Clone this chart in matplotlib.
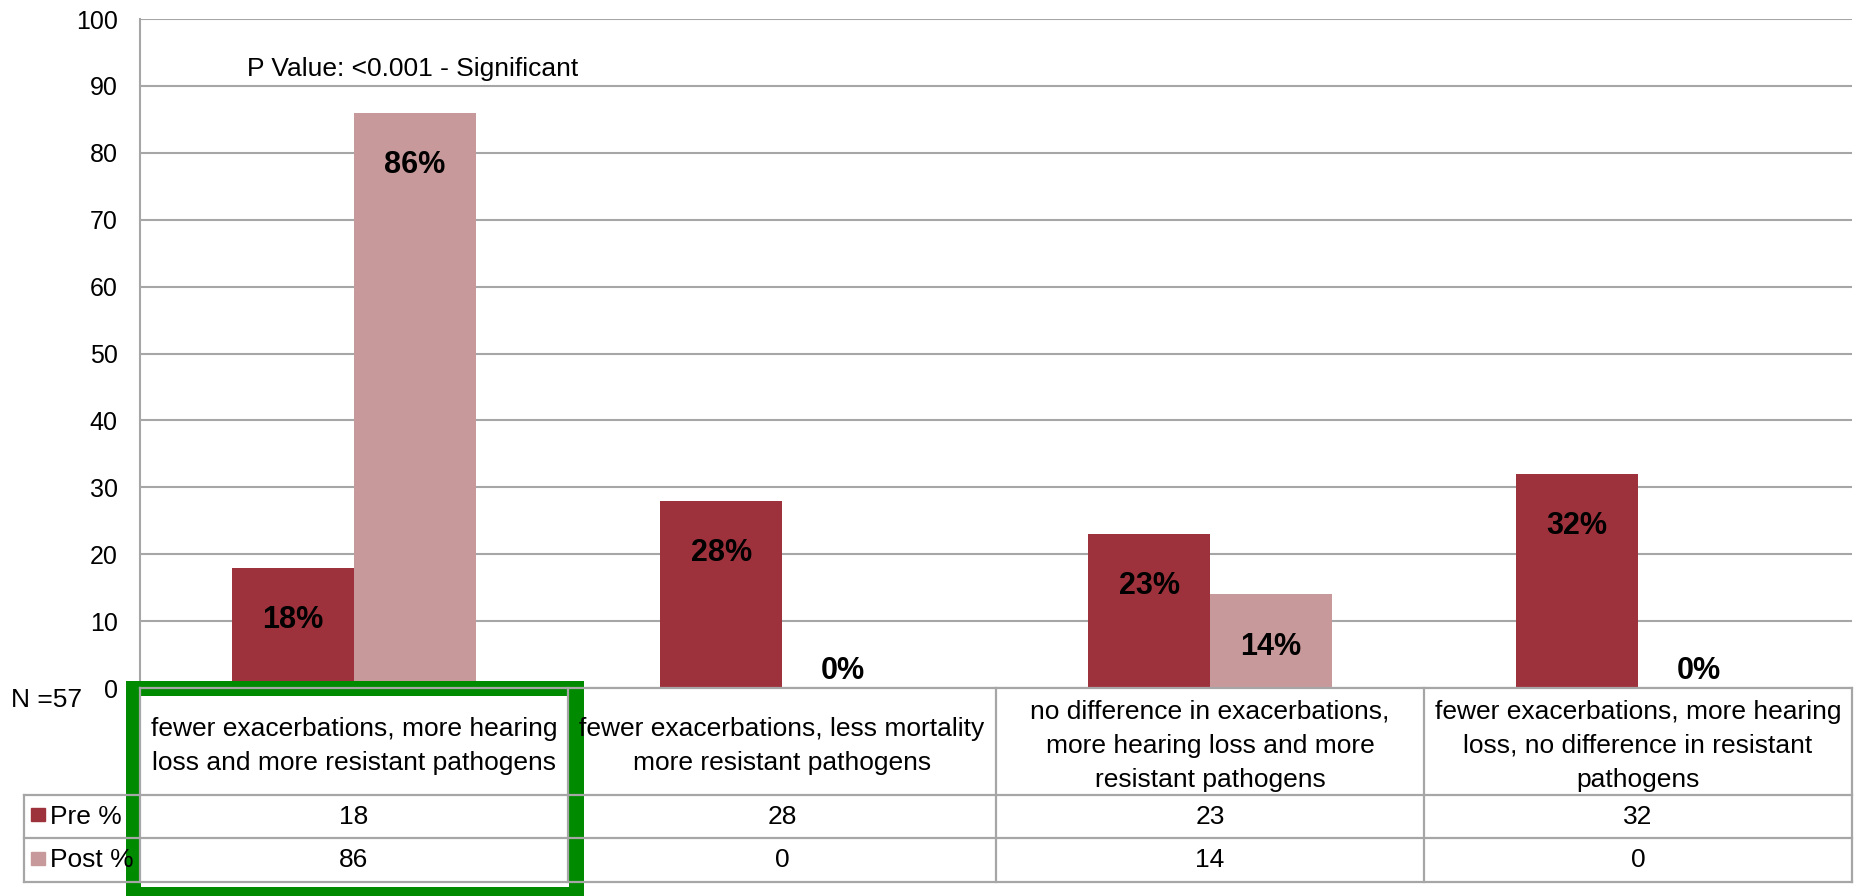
import numpy as np
import matplotlib.pyplot as plt
from matplotlib.patches import Rectangle

plt.rcParams['font.family'] = ['Liberation Sans', 'DejaVu Sans']

# survey answers, before and after the session
categories = [
    "fewer exacerbations, more hearing\nloss and more resistant pathogens",
    "fewer exacerbations, less mortality\nmore resistant pathogens",
    "no difference in exacerbations,\nmore hearing loss and more\nresistant pathogens",
    "fewer exacerbations, more hearing\nloss, no difference in resistant\npathogens",
]
pre = [18, 28, 23, 32]
post = [86, 0, 14, 0]
series_names = ["Pre %", "Post %"]
yticks = list(range(0, 101, 10))
p_text = "P Value: <0.001 - Significant"
n_text = "N =57"

pre_color = "#9e323c"
post_color = "#c8999b"
line_color = "#a6a6a6"
green = "#008a00"

W, H = 1856, 896
fig = plt.figure(figsize=(W / 100, H / 100), dpi=100)

# main plot area (pixel layout measured from the top-left corner)
ax_l, ax_r, ax_t, ax_b = 140, 1852, 19, 688
ax = fig.add_axes([ax_l / W, 1 - ax_b / H, (ax_r - ax_l) / W, (ax_b - ax_t) / H])

x = np.arange(len(categories))
bw = 0.284
bars_pre = ax.bar(x - bw / 2, pre, bw, color=pre_color, zorder=2)
bars_post = ax.bar(x + bw / 2, post, bw, color=post_color, zorder=2)

ax.set_xlim(-0.5, len(categories) - 0.5)
ax.set_ylim(0, 100)
ax.set_yticks(yticks)
ax.yaxis.grid(True, color=line_color, lw=1.5)
ax.set_axisbelow(True)
ax.tick_params(axis='y', length=0, pad=16, labelsize=18)
ax.set_xticks([])
for s in ['top', 'right', 'bottom']:
    ax.spines[s].set_visible(False)
ax.spines['left'].set_color(line_color)
ax.spines['left'].set_linewidth(1.5)

for bars, vals in ((bars_pre, pre), (bars_post, post)):
    for b, v in zip(bars, vals):
        cx = b.get_x() + b.get_width() / 2
        y = v - 7.8 if v > 0 else v + 2.5
        ax.text(cx, y, f"{v}%", ha='center', va='center', fontsize=22, fontweight='bold', zorder=4)

ax.text(-0.25, 92.6, p_text, ha='left', va='center', fontsize=19)

# data table underneath, drawn in pixel coordinates
ov = fig.add_axes([0, 0, 1, 1])
ov.set_xlim(0, W)
ov.set_ylim(H, 0)
ov.axis('off')

edges = [ax.transData.transform((i - 0.5, 0))[0] for i in range(len(categories) + 1)]
row_y = [688, 795, 838, 882]
leg_l = 24

# highlighted answer
ov.add_patch(Rectangle((133.5, 688.5), 576.5 - 133.5, 894.5 - 688.5, fill=False,
                       edgecolor=green, lw=10.8, zorder=1, clip_on=False))

lw = 1.6
ov.plot([edges[0], edges[-1]], [row_y[0], row_y[0]], color=line_color, lw=lw, zorder=2)
for yy in row_y[1:]:
    ov.plot([leg_l, edges[-1]], [yy, yy], color=line_color, lw=lw, zorder=2)
for ex in edges:
    ov.plot([ex, ex], [row_y[0], row_y[-1]], color=line_color, lw=lw, zorder=2)
ov.plot([leg_l, leg_l], [row_y[1], row_y[-1]], color=line_color, lw=lw, zorder=2)

for i, cat in enumerate(categories):
    cx = (edges[i] + edges[i + 1]) / 2
    ov.text(cx, 746, cat, ha='center', va='center', fontsize=19, linespacing=1.55, zorder=3)
    for r, vals in enumerate((pre, post)):
        cy = (row_y[r + 1] + row_y[r + 2]) / 2
        ov.text(cx, cy, str(vals[i]), ha='center', va='center', fontsize=19, zorder=3)

for r, (name, col) in enumerate(zip(series_names, (pre_color, post_color))):
    cy = (row_y[r + 1] + row_y[r + 2]) / 2
    ov.add_patch(Rectangle((31, cy - 8), 14, 13, color=col, zorder=3))
    ov.text(50, cy, name, ha='left', va='center', fontsize=19, zorder=3)

ov.text(11, 700, n_text, ha='left', va='center', fontsize=19)

fig.savefig("out.png", dpi=100)
